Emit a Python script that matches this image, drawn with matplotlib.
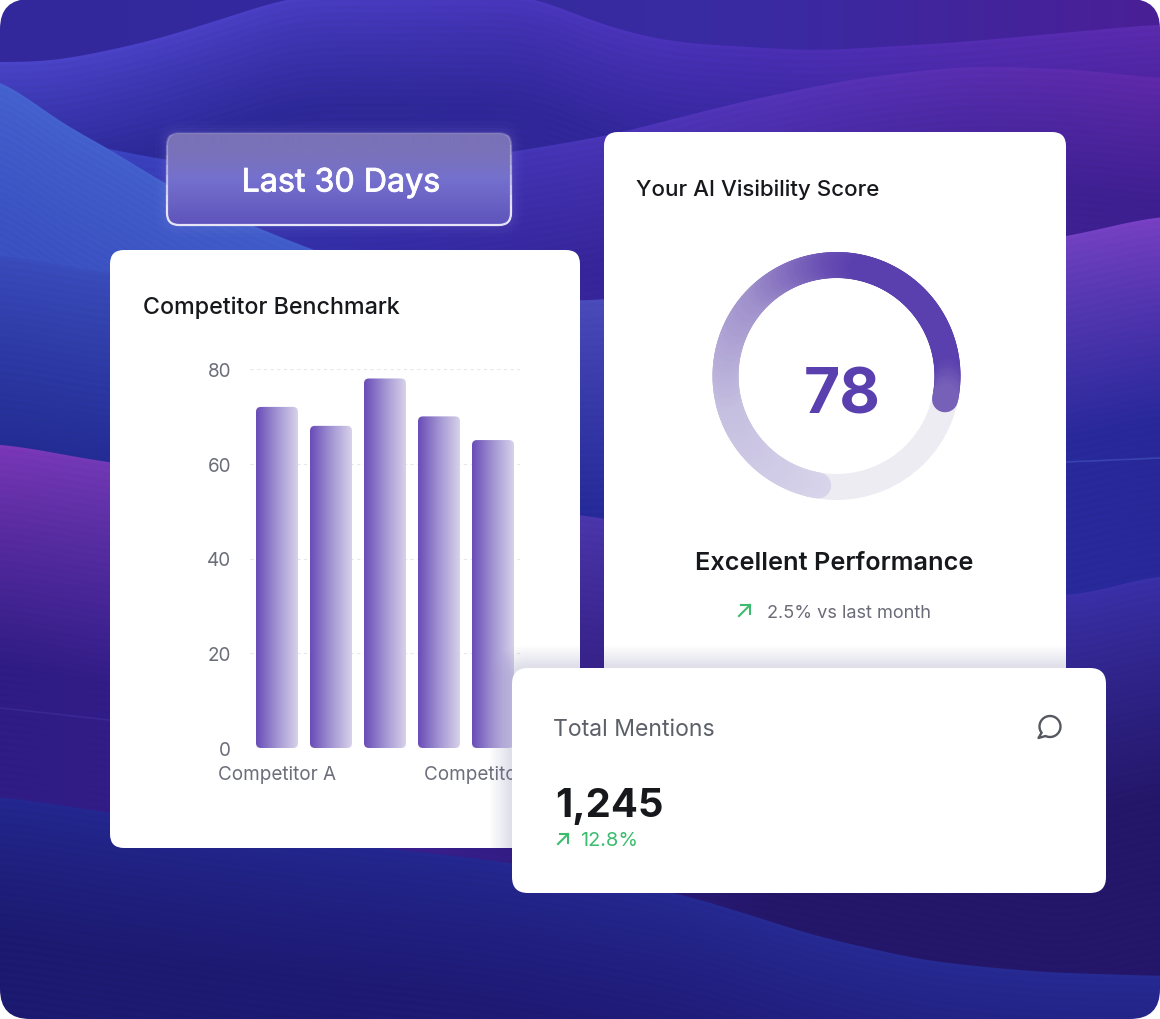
import matplotlib
matplotlib.use('Agg')
import matplotlib.pyplot as plt
import matplotlib.patheffects as pe
import numpy as np
from matplotlib.collections import LineCollection
from matplotlib.colors import LinearSegmentedColormap, to_rgb
from matplotlib.patches import Circle, FancyBboxPatch, PathPatch, Rectangle
from matplotlib.path import Path

plt.rcParams['font.family'] = ['Inter', 'DejaVu Sans']

# Chart values
competitors = ['Competitor A', 'Competitor B', 'Competitor C', 'Competitor D', 'Competitor E']
benchmark = [72, 68, 78, 70, 65]
y_ticks = [0, 20, 40, 60, 80]
shown_label_positions = [0, 3.8]
shown_labels = ['Competitor A', 'Competitor E']
score = 78
score_full = 103  # the ring stops short of a true 78% of the circle
score_note = '2.5% vs last month'
mentions = '1,245'
mentions_change = '12.8%'

W, H = 1160, 1020
PURPLE = '#5a3fae'


def rounded(x, y, w, h, r, **kw):
    return FancyBboxPatch((x + r, y + r), w - 2 * r, h - 2 * r,
                          boxstyle=f'round,pad={r},rounding_size={r}', **kw)


# Background waves: boundary points, then edge and deep colour stops across the width
layers = [
    ([(0, 63), (52, 63), (148, 43), (222, 20), (296, -4), (533, -4), (592, 23), (667, 43), (815, 52), (963, 43), (1160, 25)],
     ['#4a45c8', '#4a3cc2', '#4a2fb4', '#5c2bae'], ['#2c2a9a', '#2e2898', '#34249a', '#44209a'], 110),
    ([(0, 130), (111, 150), (167, 162), (280, 172), (400, 170), (511, 153), (607, 137), (740, 103), (852, 80), (963, 67), (1074, 70), (1160, 80)],
     ['#3a48c2', '#3c36b6', '#5434b8', '#6029aa'], ['#2e34a8', '#30279c', '#3c2498', '#3e1f90'], 125),
    ([(0, 75), (52, 120), (111, 150), (167, 187), (252, 227), (311, 250), (420, 290), (600, 340)],
     ['#4562cf', '#3f5cc8', '#3f4cc0', '#3a3fb0'], ['#3a52c2', '#3a4cbc', '#3a3fb0', '#3a3fb0'], 150),
    ([(0, 255), (110, 275), (590, 303), (1066, 238), (1160, 216)],
     ['#3a4cbc', '#3a50b8', '#5a48bc', '#7a40c4'], ['#222a90', '#232a98', '#2a2c9c', '#28289a'], 205),
    ([(0, 444), (110, 464), (590, 517), (1066, 600), (1160, 575)],
     ['#7c38b8', '#5a3db0', '#3f30a8', '#3a30a8'], ['#2f1c84', '#3a1f90', '#24176a', '#24176a'], 220),
    ([(0, 797), (110, 814), (300, 840), (500, 862), (674, 893), (741, 913), (815, 937), (926, 962), (1037, 973), (1160, 977)],
     ['#23278f', '#23278f', '#262a92', '#262a92'], ['#1c1a70', '#1e1a74', '#201b78', '#201b78'], 140),
]


def smooth_curve(points, xs):
    px, py = zip(*points)
    ys = np.interp(xs, px, py)
    kernel = np.ones(61) / 61
    pad = np.pad(ys, 61, mode='edge')
    for _ in range(2):
        pad = np.convolve(pad, kernel, mode='same')
    return pad[61:-61]


def colour_stops(colours, xs):
    stops = np.linspace(0, W, len(colours))
    rgb = np.array([to_rgb(c) for c in colours])
    return np.stack([np.interp(xs, stops, rgb[:, i]) for i in range(3)], axis=1)


xs = np.arange(W) + 0.5
ys = np.arange(H) + 0.5
top = colour_stops(['#33279c', '#342a9e', '#3a2aa2', '#4a1f96'], xs)
raster = np.repeat(top[np.newaxis, :, :], H, axis=0)
for points, edge, deep, fade in layers:
    d = ys[:, np.newaxis] - smooth_curve(points, xs)[np.newaxis, :]
    t = np.clip(d / fade, 0, 1)[:, :, np.newaxis] ** 0.85
    c1 = colour_stops(edge, xs)[np.newaxis, :, :]
    c2 = colour_stops(deep, xs)[np.newaxis, :, :]
    fill = (c1 + (c2 - c1) * t) * (1 + 0.012 * np.sin(d * 0.9)[:, :, np.newaxis])
    mask = np.clip(d + 0.5, 0, 1)[:, :, np.newaxis]
    raster = raster * (1 - mask) + fill * mask
raster = np.clip(raster, 0, 1)

fig = plt.figure(figsize=(W / 100, H / 100), dpi=100, facecolor='white')

# one px down so the cards land on the same rows as the reference
ax = fig.add_axes([0, 0, 1, 1], zorder=0)
ax.set_xlim(0, W)
ax.set_ylim(H - 1, -1)
ax.axis('off')

frame = rounded(0, -1, W, H, 30, facecolor='none', edgecolor='none')
ax.add_patch(frame)
bg = ax.imshow(raster, extent=(0, W, H - 1, -1), aspect='auto', zorder=0, interpolation='bilinear')
bg.set_clip_path(frame)
ax.set_xlim(0, W)
ax.set_ylim(H - 1, -1)

# faint ridge lines in the waves
ax.plot([0, 110], [708, 720], color='#4a3aa8', lw=1.2, alpha=0.4, zorder=1)
ax.plot([1066, 1160], [462, 458], color='#4a5cc4', lw=1.2, alpha=0.5, zorder=1)

# glass button
for grow, alpha in [(12, 0.02), (8, 0.03), (5, 0.04), (2, 0.05)]:
    ax.add_patch(rounded(167 - grow, 133 - grow, 344 + 2 * grow, 92 + 2 * grow, 12 + grow,
                         facecolor='#a8a0f0', edgecolor='none', alpha=alpha, zorder=2))
button = rounded(167, 133, 344, 92, 12, facecolor='none', edgecolor='none', zorder=3)
ax.add_patch(button)
glass_cmap = LinearSegmentedColormap.from_list('glass', ['#7a72b6', '#7a72bc', '#7470ce', '#6a62c4', '#5e54bc'])
glass = ax.imshow(np.linspace(0, 1, 92)[:, np.newaxis], cmap=glass_cmap, extent=(167, 511, 225, 133),
                  aspect='auto', zorder=3)
glass.set_clip_path(button)
ax.set_xlim(0, W)
ax.set_ylim(H - 1, -1)
# border fades out towards the top
for band_top in range(125, 235, 10):
    edge = rounded(167, 133, 344, 92, 12, facecolor='none', edgecolor='#e6e4f6', lw=1.6, zorder=4,
                   alpha=float(np.clip(0.12 + (band_top - 125) / 85, 0, 1)))
    ax.add_patch(edge)
    edge.set_clip_path(Rectangle((150, band_top), 380, 10, transform=ax.transData))
ax.text(341, 183, 'Last 30 Days', color='white', fontsize=23.2, ha='center', va='center', zorder=5,
        path_effects=[pe.withStroke(linewidth=0.6, foreground='white')])

# white cards
card_left = rounded(110, 250, 470, 598, 14, facecolor='white', edgecolor='none', zorder=3)
card_right = rounded(604, 132, 462, 580, 14, facecolor='white', edgecolor='none', zorder=3)
ax.add_patch(card_left)
ax.add_patch(card_right)

ax.text(143, 307, 'Competitor Benchmark', color='#17181c', fontsize=16.75, fontweight='medium',
        ha='left', va='center', zorder=5)
ax.text(636, 189, 'Your AI Visibility Score', color='#17181c', fontsize=16.1, fontweight='medium',
        ha='left', va='center', zorder=5)

# score ring
cx, cy, radius, stroke = 836.5, 376, 111, 26 * 0.72
ax.add_patch(Circle((cx, cy), radius, facecolor='none', edgecolor='#eeecf3', lw=stroke, zorder=4))
arc_values = np.linspace(0, score, 200)
angles = np.radians(260.5 - arc_values / score_full * 360)
arc_x = cx + radius * np.cos(angles)
arc_y = cy - radius * np.sin(angles)
segments = np.stack([np.column_stack([arc_x[:-1], arc_y[:-1]]), np.column_stack([arc_x[1:], arc_y[1:]])], axis=1)
ring_cmap = LinearSegmentedColormap.from_list(
    'ring', [(0, '#d8d4ea'), (0.25, '#c5bfe0'), (0.47, '#9f90cb'), (0.62, '#6a50b4'), (0.68, PURPLE),
             (0.95, PURPLE), (1, '#7660b8')])
ax.add_collection(LineCollection(segments, colors=ring_cmap(np.linspace(0, 1, 199)), linewidths=stroke,
                                 capstyle='round', zorder=5))
ax.text(842, 396, str(score), color=PURPLE, fontsize=45, fontweight='bold', ha='center', va='center', zorder=6)
ax.text(834.5, 563, 'Excellent Performance', color='#17181c', fontsize=18.2, fontweight='semibold',
        ha='center', va='center', zorder=5)
ax.text(767, 613, score_note, color='#6b6b78', fontsize=13.1, ha='left', va='center', zorder=5)


def trend_arrow(axis, x, y, size):
    axis.plot([x, x + size], [y + size, y], color='#3dbb6f', lw=1.5, zorder=6)
    axis.plot([x + 0.15 * size, x + size, x + size], [y, y, y + 0.85 * size], color='#3dbb6f', lw=1.5, zorder=6)


trend_arrow(ax, 739, 605, 11)

# bar chart in its own scaled axes
ax_bar = fig.add_axes([250 / W, (H - 749) / H, 270 / W, (749 - 370) / H], zorder=1)
ax_bar.patch.set_alpha(0)
bar_x = np.arange(len(benchmark))
bars = ax_bar.bar(bar_x, benchmark, width=42 / 54, color='none', edgecolor='none', zorder=3)
ax_bar.set_yticks(y_ticks)
ax_bar.set_xticks(shown_label_positions, shown_labels)
ax_bar.tick_params(axis='both', length=0, labelsize=13.6, labelcolor='#6b6e7a')
ax_bar.tick_params(axis='y', pad=13.5)
ax_bar.tick_params(axis='x', pad=12.2)
ax_bar.grid(axis='y', color='#e6e6ec', linestyle=(0, (3, 3)), linewidth=0.8, zorder=0)
ax_bar.set_axisbelow(True)
for spine in ax_bar.spines.values():
    spine.set_visible(False)
for label in ax_bar.get_xticklabels() + ax_bar.get_yticklabels():
    label.set_clip_on(False)

bar_cmap = LinearSegmentedColormap.from_list('bar', ['#6a4db8', '#a294d2', '#d6d0ea'])
round_x = 5 / 54
aspect = (80 / 379) / (1 / 54)
for bar in bars:
    x0, w, h = bar.get_x(), bar.get_width(), bar.get_height()
    clip = FancyBboxPatch((x0 + round_x, round_x * aspect), w - 2 * round_x, h - 2 * round_x * aspect,
                          boxstyle=f'round,pad={round_x},rounding_size={round_x}',
                          mutation_aspect=aspect, facecolor='none', edgecolor='none', zorder=3)
    ax_bar.add_patch(clip)
    img = ax_bar.imshow(np.linspace(0, 1, 42)[np.newaxis, :], cmap=bar_cmap, extent=(x0, x0 + w, 0, h),
                        aspect='auto', zorder=3)
    img.set_clip_path(clip)
ax_bar.set_xlim(-0.5, 4.5)
ax_bar.set_ylim(0, 80)

# mentions card on top of everything
ax_top = fig.add_axes([0, 0, 1, 1], zorder=2)
ax_top.patch.set_alpha(0)
ax_top.set_xlim(0, W)
ax_top.set_ylim(H - 1, -1)
ax_top.axis('off')

for card_box in ((110, 250, 470, 598, 14), (604, 132, 462, 580, 14)):
    for grow in range(22, 0, -2):
        shade = rounded(512 - grow, 668 - grow, 594 + 2 * grow, 225 + 2 * grow, 16 + grow,
                        facecolor='#8d88b8', edgecolor='none', alpha=0.024, zorder=1)
        ax_top.add_patch(shade)
        shade.set_clip_path(rounded(*card_box, transform=ax_top.transData))

ax_top.add_patch(rounded(512, 668, 594, 225, 16, facecolor='white', edgecolor='none', zorder=2))
ax_top.text(553, 729, 'Total Mentions', color='#5c6068', fontsize=16.6, ha='left', va='center', zorder=3)
ax_top.text(555, 806, mentions, color='#17181c', fontsize=28.8, fontweight='bold', ha='left', va='center', zorder=3)
ax_top.text(580, 840, mentions_change, color='#3dbb6f', fontsize=14.4, ha='left', va='center', zorder=3)
trend_arrow(ax_top, 558, 834, 10)

# chat bubble icon
theta = np.radians(np.linspace(215, 215 - 330, 60))
bubble_x = 1050 + 10.5 * np.cos(theta)
bubble_y = 726.5 - 10.5 * np.sin(theta)
verts = list(zip(bubble_x, bubble_y)) + [(1038.5, 738), (1041.4, 733)]
ax_top.add_patch(PathPatch(Path(verts), facecolor='none', edgecolor='#55595f', lw=1.7, zorder=3,
                           joinstyle='round', capstyle='round'))

fig.savefig('out.png', dpi=100, facecolor='white')
plt.close(fig)
